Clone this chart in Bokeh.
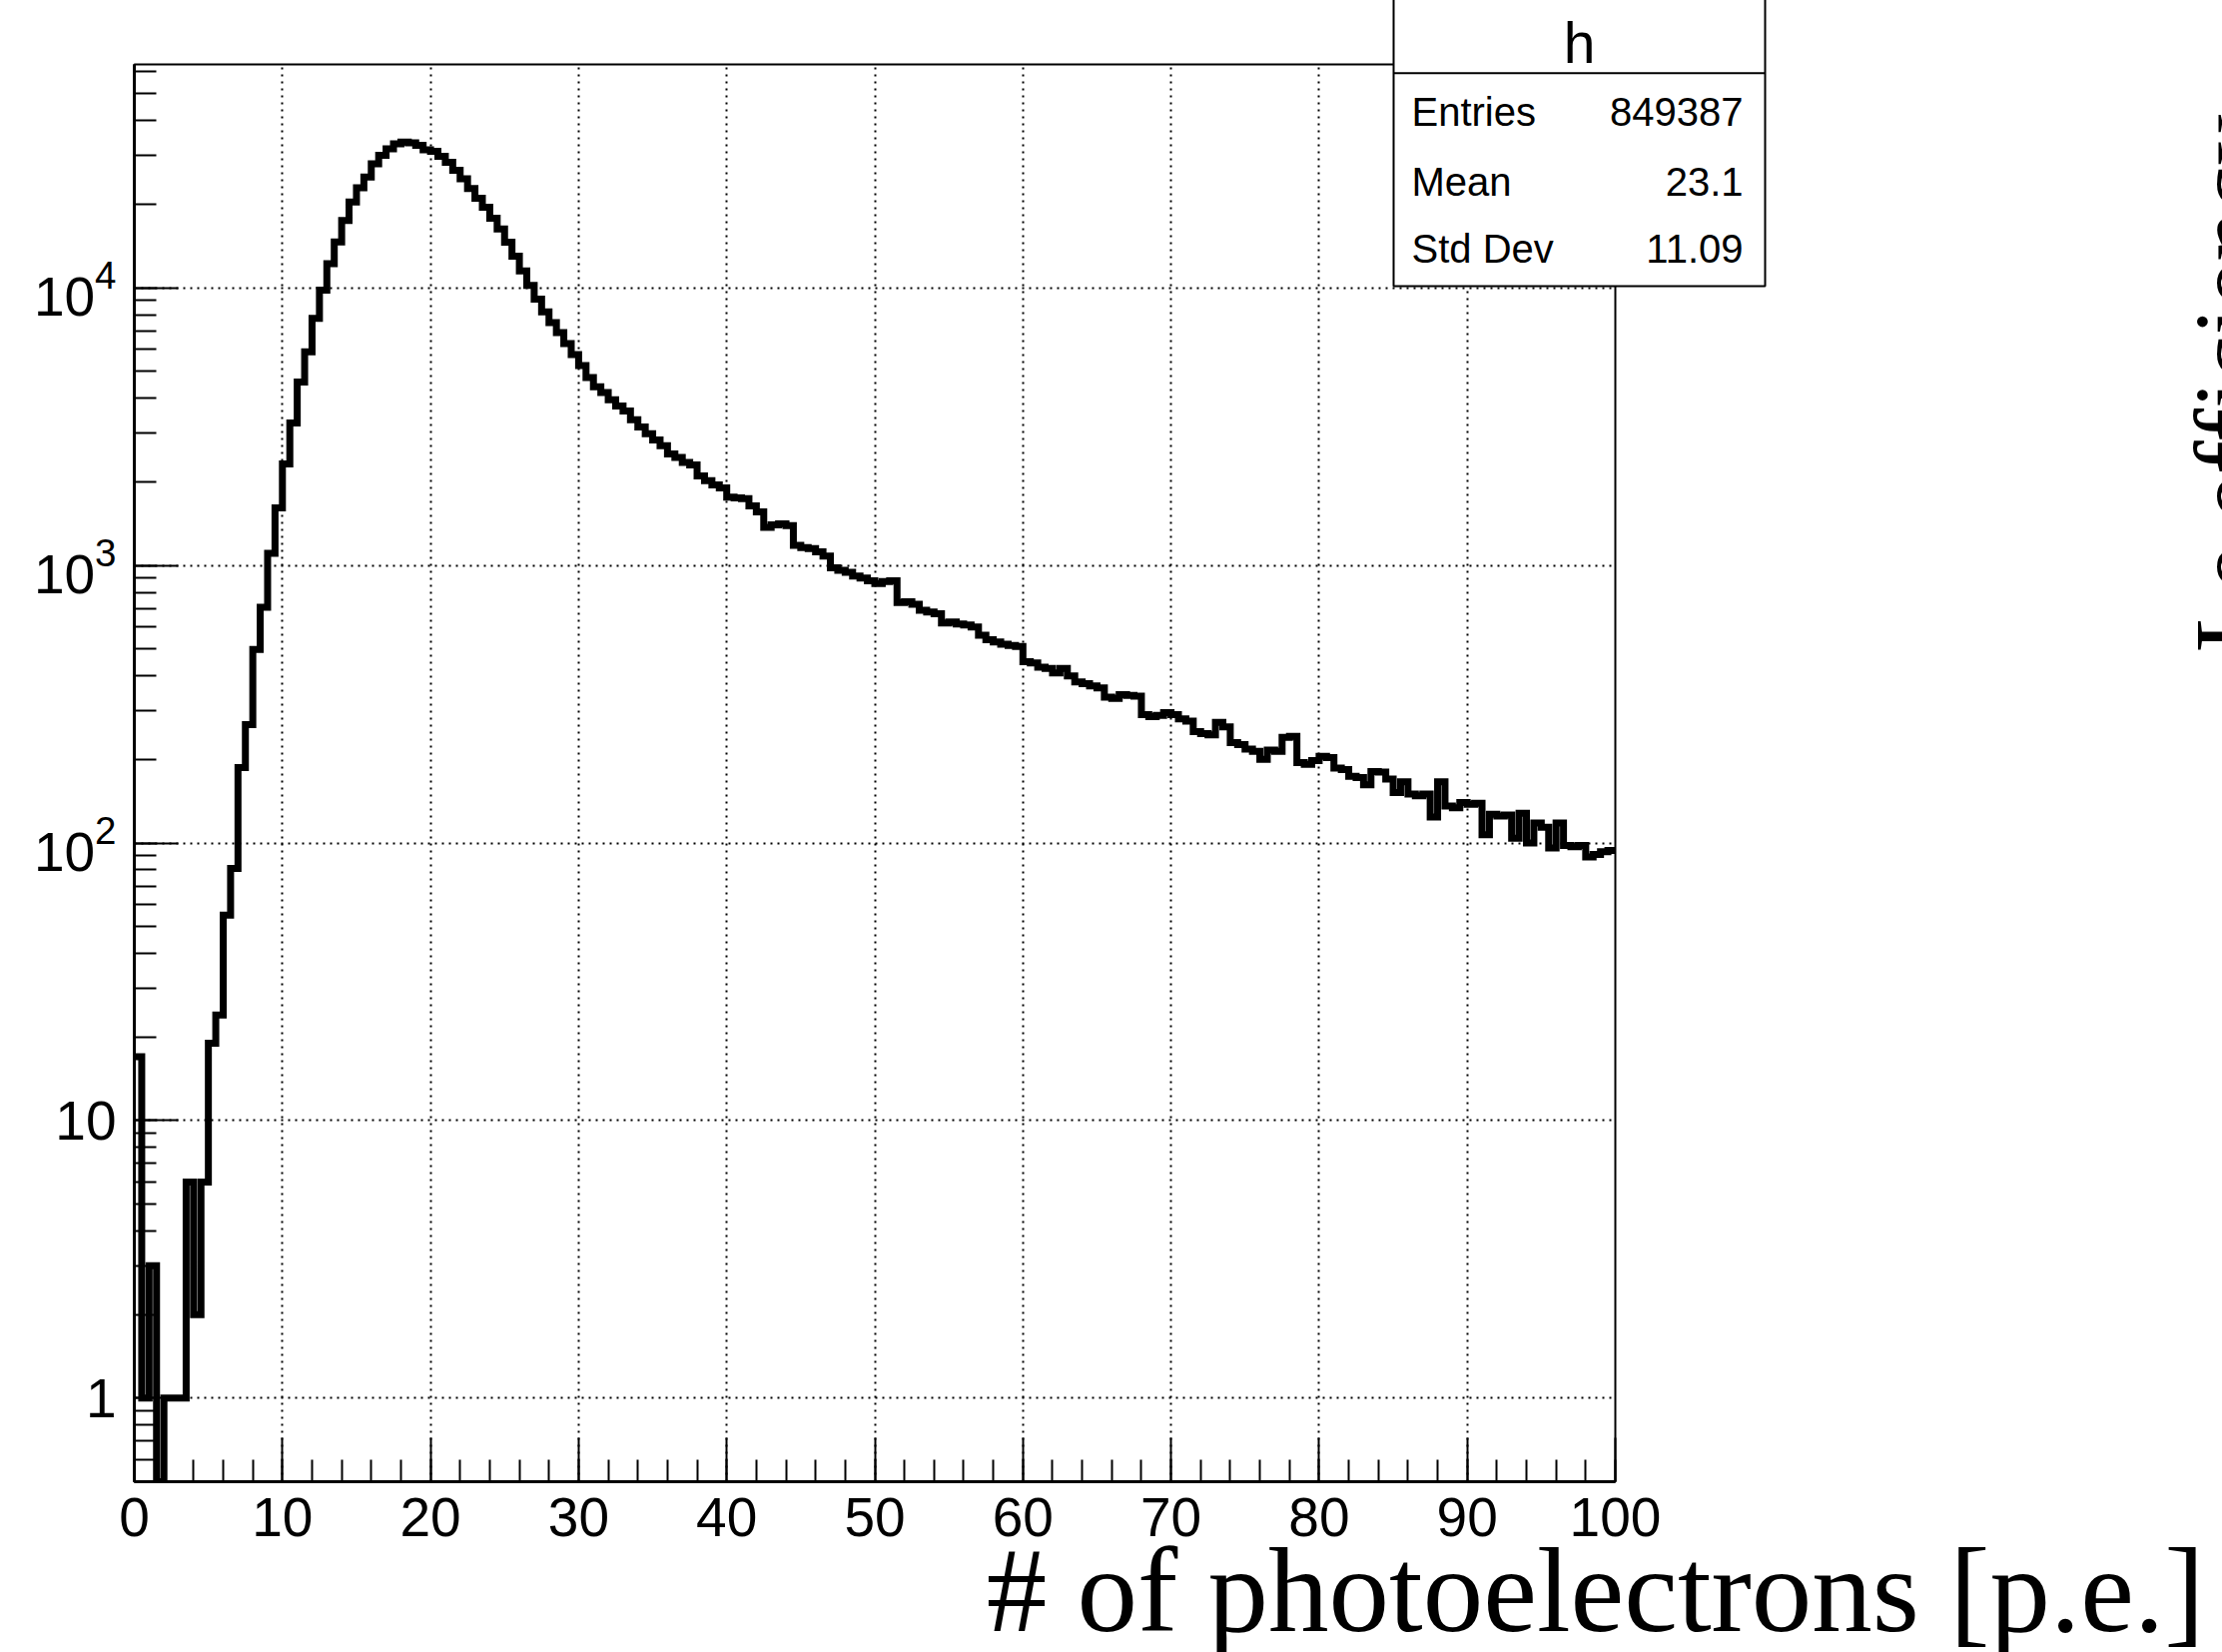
import numpy as np
from bokeh.plotting import figure
from bokeh.models import Range1d, LogTicker, LogTickFormatter, SingleIntervalTicker
from bokeh.core.properties import value
from bokeh.embed import file_html
from bokeh.resources import INLINE

# ---------------- data ----------------
bin_width = 0.5
counts = [
    17, 1, 3, 0, 1, 1, 1, 6, 2, 6,
    19, 24, 55, 81, 187, 267, 498, 706, 1105, 1610,
    2320, 3260, 4580, 5880, 7760, 9800, 12230, 14620, 17500, 20370,
    22950, 25060, 28000, 30000, 31700, 33050, 33500, 33300, 32600, 31450,
    31000, 29800, 28300, 26500, 24700, 22800, 21000, 19500, 17800, 16300,
    14600, 13000, 11500, 10200, 9100, 8200, 7500, 6900, 6300, 5750,
    5250, 4750, 4400, 4200, 3950, 3750, 3600, 3350, 3150, 2980,
    2830, 2700, 2520, 2450, 2350, 2300, 2100, 2020, 1950, 1900,
    1760, 1750, 1740, 1640, 1560, 1370, 1400, 1410, 1390, 1180,
    1160, 1150, 1120, 1080, 980, 960, 945, 915, 900, 880,
    860, 875, 880, 735, 740, 725, 690, 680, 670, 620,
    625, 615, 610, 600, 560, 540, 530, 520, 515, 510,
    450, 445, 430, 425, 410, 425, 400, 380, 375, 368,
    362, 335, 332, 342, 340, 338, 290, 285, 288, 295,
    290, 280, 275, 252, 248, 245, 272, 262, 230, 226,
    218, 214, 200, 216, 214, 240, 242, 195, 192, 198,
    205, 203, 186, 184, 174, 172, 162, 181, 180, 170,
    152, 166, 150, 148, 150, 124, 166, 136, 134, 140,
    138, 139, 107, 127, 125, 126, 104, 128, 100, 118,
    114, 96, 118, 98, 97, 98, 89, 91, 93, 94,
]
x_tick_interval = 10
hist_name = "h"
stat_names = ["Entries", "Mean", "Std Dev"]
stat_values = ["849387", "23.1", "11.09"]
x_title = "# of photoelectrons [p.e.]"
side_title = "Le efficiency"

X_MIN, X_MAX = 0.0, 100.0
Y_MIN, Y_MAX = 0.5, 63800.0

# ---------------- layout (figure pixels) ----------------
W, H = 2225, 1654
FL, FT, FR, FB = 134, 64, 1617, 1483   # frame edges inside the figure
SANS = value("Liberation Sans")
SERIF = value("Liberation Serif")
BASE_SHIFT = 0.34   # renderer places "alphabetic" text this many em lower


def xd(px):
    """figure pixel x -> data x (for annotations placed around the frame)"""
    return X_MIN + (px - FL) / (FR - FL) * (X_MAX - X_MIN)


def yd(py):
    """figure pixel y -> data y on the log axis"""
    lo, hi = np.log10(Y_MIN), np.log10(Y_MAX)
    return 10 ** (lo + (FB - py) / (FB - FT) * (hi - lo))


def base(py, fs):
    """data y for a wanted baseline pixel of a text with font size fs"""
    return yd(py - BASE_SHIFT * fs)


p = figure(width=W, height=H,
           x_range=Range1d(X_MIN, X_MAX), y_range=Range1d(Y_MIN, Y_MAX),
           y_axis_type="log", output_backend="svg", toolbar_location=None, tools="",
           min_border_left=FL, min_border_right=W - FR,
           min_border_top=FT, min_border_bottom=H - FB)
p.title.visible = False
p.background_fill_color = "white"
p.border_fill_color = "white"
p.outline_line_color = None

# axes
p.xaxis.ticker = SingleIntervalTicker(interval=x_tick_interval, num_minor_ticks=5)
p.yaxis.ticker = LogTicker(num_minor_ticks=10)
p.yaxis.formatter = LogTickFormatter(min_exponent=2)
for ax in (p.xaxis[0], p.yaxis[0]):
    ax.major_tick_in = 44
    ax.major_tick_out = 0
    ax.minor_tick_in = 22
    ax.minor_tick_out = 0
    ax.axis_line_width = 3
    ax.axis_line_color = "black"
    ax.major_tick_line_width = 2
    ax.minor_tick_line_width = 2
    ax.major_tick_line_color = "black"
    ax.minor_tick_line_color = "black"
    ax.major_label_text_font = "Liberation Sans"
    ax.major_label_text_font_size = "55px"
    ax.major_label_text_color = "black"
p.xaxis.major_label_standoff = 16
p.yaxis.major_label_standoff = 18

# grid
for g in (p.xgrid[0], p.ygrid[0]):
    g.grid_line_color = "black"
    g.grid_line_dash = "2 5"
    g.grid_line_width = 2

# histogram (zero bins drawn down to the lower edge of the axis, as ROOT does)
c = np.array(counts, dtype=float)
edges = X_MIN + np.arange(len(c) + 1) * bin_width
yplot = np.where(c > 0, c, Y_MIN)
p.step(edges, np.append(yplot, yplot[-1]), mode="after",
       line_color="black", line_width=7, line_join="miter")

# frame
p.quad(left=[X_MIN], right=[X_MAX], bottom=[Y_MIN], top=[Y_MAX],
       fill_color=None, line_color="black", line_width=2, level="overlay")

# statistics box
bx0, bx1 = xd(1395), xd(1767)
p.quad(left=[bx0], right=[bx1], bottom=[yd(286)], top=[yd(-60)],
       fill_color="white", line_color="black", line_width=2, level="overlay")
p.segment(x0=[bx0], x1=[bx1], y0=[yd(72.7)], y1=[yd(72.7)],
          line_color="black", line_width=2, level="overlay")
p.text(x=[(bx0 + bx1) / 2], y=[base(61.7, 57)], text=[hist_name],
       text_font=SANS, text_font_size="57px", text_align="center",
       text_baseline="alphabetic", text_color="black", level="overlay")
rows_y = [base(125, 40), base(195, 40), base(261.7, 40)]
p.text(x=[xd(1413)] * 3, y=rows_y, text=stat_names,
       text_font=SANS, text_font_size="40px", text_align="left",
       text_baseline="alphabetic", text_color="black", level="overlay")
p.text(x=[xd(1745)] * 3, y=rows_y, text=stat_values,
       text_font=SANS, text_font_size="40px", text_align="right",
       text_baseline="alphabetic", text_color="black", level="overlay")

# x axis title (ROOT places it at the right end)
p.text(x=[xd(2207)], y=[base(1633, 121)], text=[x_title],
       text_font=SERIF, text_font_size="121px", text_align="right",
       text_baseline="alphabetic", text_color="black", level="overlay")

# title of the neighbouring pad, cut by the canvas edge (rotated by 90 degrees)
SIDE_FS = 102
p.text(x=[xd(2268 - BASE_SHIFT * SIDE_FS)], y=[yd(653)], text=[side_title], angle=np.pi / 2,
       text_font=SERIF, text_font_size=f"{SIDE_FS}px", text_align="left",
       text_baseline="alphabetic", text_color="black", level="overlay")

open("out.html", "w").write(file_html(p, INLINE))
